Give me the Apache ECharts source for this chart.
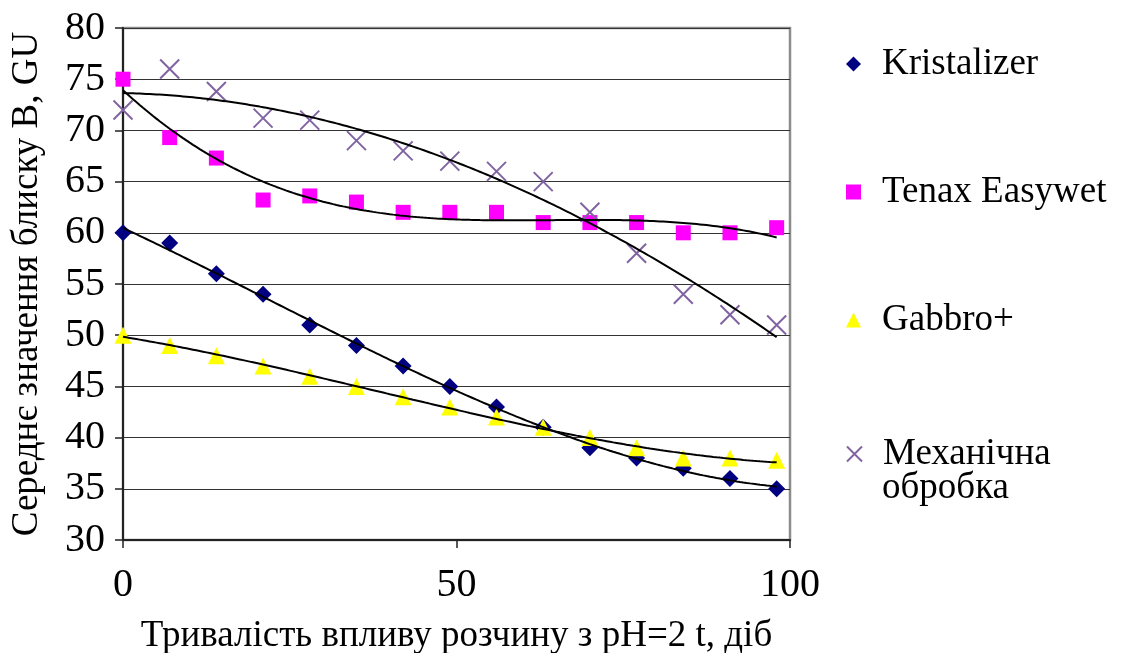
<!DOCTYPE html>
<html>
<head>
<meta charset="utf-8">
<script src="https://cdn.jsdelivr.net/npm/echarts@6/dist/echarts.min.js"></script>
<style>
  html, body { margin: 0; padding: 0; background: #fff; }
  #chart { width: 1126px; height: 653px; }
</style>
</head>
<body>
<div id="chart"></div>
<script>
// Measurement days and mean gloss values (GU) per surface treatment
const days = [0, 7, 14, 21, 28, 35, 42, 49, 56, 63, 70, 77, 84, 91, 98];
const kristalizer = [60, 59, 56, 54, 51, 49, 47, 45, 43, 41, 39, 38, 37, 36, 35];
const tenax = [75, 69.3, 67.3, 63.2, 63.6, 63, 62, 62, 62, 61, 61, 61, 60, 60, 60.5];
const gabbro = [50, 49, 48, 47, 46, 45, 44, 43, 42, 41, 40, 39, 38, 38, 37.8];
const mechanical = [72, 76, 73.8, 71.2, 71, 69, 68, 67, 66, 65, 62, 58, 54, 52, 51];

const seriesNames = ['Kristalizer', 'Tenax Easywet', 'Gabbro+', 'Механічна обробка'];
const xTicks = [0, 50, 100];
const yTicks = [30, 35, 40, 45, 50, 55, 60, 65, 70, 75, 80];

const FONT = 'Liberation Serif';

// Least-squares polynomial fit (normal equations, Gaussian elimination)
function polyfit(xs, ys, deg) {
  const n = deg + 1;
  const A = [];
  for (let r = 0; r < n; r++) {
    A.push(new Array(n + 1).fill(0));
    for (let c = 0; c < n; c++) {
      let s = 0;
      for (let i = 0; i < xs.length; i++) s += Math.pow(xs[i], r + c);
      A[r][c] = s;
    }
    let t = 0;
    for (let i = 0; i < xs.length; i++) t += ys[i] * Math.pow(xs[i], r);
    A[r][n] = t;
  }
  for (let p = 0; p < n; p++) {
    let best = p;
    for (let r = p + 1; r < n; r++) if (Math.abs(A[r][p]) > Math.abs(A[best][p])) best = r;
    [A[p], A[best]] = [A[best], A[p]];
    for (let r = 0; r < n; r++) {
      if (r === p) continue;
      const f = A[r][p] / A[p][p];
      for (let c = p; c <= n; c++) A[r][c] -= f * A[p][c];
    }
  }
  return A.map((row, i) => row[n] / row[i]);
}

// Cubic trend curve sampled along the measured day range
function trendPoints(ys, deg) {
  const k = polyfit(days, ys, deg);
  const pts = [];
  const x0 = days[0], x1 = days[days.length - 1];
  for (let x = x0; x <= x1 + 1e-9; x += 0.5) {
    let y = 0;
    for (let i = 0; i < k.length; i++) y += k[i] * Math.pow(x, i);
    pts.push([x, y]);
  }
  return pts;
}

const pairs = ys => days.map((d, i) => [d, ys[i]]);

const crossPath = 'path://M0,0L10,10M10,0L0,10';

const markerSeries = [
  { name: seriesNames[0], data: pairs(kristalizer), symbol: 'diamond', symbolSize: 17,
    itemStyle: { color: '#000080', opacity: 1 } },
  { name: seriesNames[1], data: pairs(tenax), symbol: 'rect', symbolSize: 15,
    itemStyle: { color: '#FF00FF', opacity: 1 } },
  { name: seriesNames[2], data: pairs(gabbro), symbol: 'triangle', symbolSize: 17,
    itemStyle: { color: '#FFFF00', opacity: 1 } },
  { name: seriesNames[3], data: pairs(mechanical), symbol: crossPath, symbolSize: 19,
    itemStyle: { color: 'rgba(0,0,0,0)', borderColor: '#8064A2', borderWidth: 2, opacity: 1 } }
].map(s => Object.assign({ type: 'scatter', z: 2, silent: true }, s));

const trendSeries = [kristalizer, tenax, gabbro, mechanical].map(ys => ({
  type: 'line',
  data: trendPoints(ys, 3),
  showSymbol: false,
  symbol: 'none',
  smooth: false,
  silent: true,
  z: 5,
  lineStyle: { color: '#000', width: 2 }
}));

function legendFor(idx, top, label) {
  return {
    data: [seriesNames[idx]],
    left: 841,
    top: top,
    orient: 'vertical',
    itemWidth: 15,
    itemHeight: 15,
    selectedMode: false,
    formatter: label ? () => label : undefined,
    textStyle: { fontFamily: FONT, fontSize: 37, color: '#000', padding: [0, 0, 0, 16], lineHeight: 42 }
  };
}

const chart = echarts.init(document.getElementById('chart'), null, { renderer: 'canvas' });
chart.setOption({
  backgroundColor: '#fff',
  animation: false,
  grid: {
    left: 123, top: 28, right: 336, bottom: 113,
    containLabel: false, outerBoundsMode: 'none',
    show: true, borderColor: '#8c8c8c', borderWidth: 2.5, backgroundColor: 'transparent'
  },
  legend: [
    legendFor(0, 38),
    legendFor(1, 166),
    legendFor(2, 294),
    legendFor(3, 428, 'Механічна')
  ],
  graphic: [{
    type: 'text', left: 882, top: 470,
    style: { text: 'обробка', font: '37px ' + FONT, fill: '#000' }
  }],
  xAxis: {
    type: 'value',
    min: xTicks[0], max: xTicks[xTicks.length - 1], interval: xTicks[1] - xTicks[0],
    name: 'Тривалість впливу розчину з pH=2 t, діб',
    nameLocation: 'middle', nameGap: 78,
    nameTextStyle: { fontFamily: FONT, fontSize: 37, color: '#000' },
    axisLine: { lineStyle: { color: '#222', width: 2 } },
    axisTick: { show: true, length: 8, lineStyle: { color: '#222', width: 1.5 } },
    axisLabel: { fontFamily: FONT, fontSize: 40, color: '#000', margin: 25 },
    splitLine: { show: false }
  },
  yAxis: {
    type: 'value',
    min: yTicks[0], max: yTicks[yTicks.length - 1], interval: yTicks[1] - yTicks[0],
    name: 'Середнє значення блиску B, GU',
    nameLocation: 'middle', nameGap: 77, nameRotate: 90,
    nameTextStyle: { fontFamily: FONT, fontSize: 37, color: '#000' },
    axisLine: { onZero: false, lineStyle: { color: '#222', width: 2 } },
    axisTick: { show: true, length: 8, lineStyle: { color: '#222', width: 1.5 } },
    axisLabel: { fontFamily: FONT, fontSize: 40, color: '#000', margin: 18, padding: [4, 0, 0, 0] },
    splitLine: { show: true, lineStyle: { color: '#333', width: 1.2 } }
  },
  series: markerSeries.concat(trendSeries)
});
</script>
</body>
</html>
